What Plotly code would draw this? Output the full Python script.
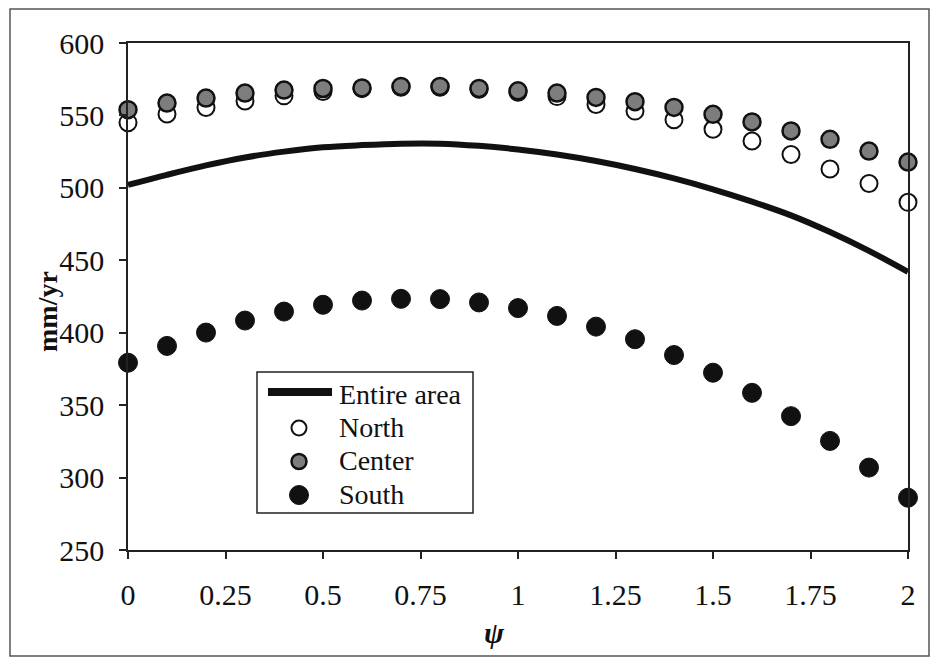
import plotly.graph_objects as go

# shape parameter
psi = [0.0, 0.1, 0.2, 0.3, 0.4, 0.5, 0.6, 0.7, 0.8, 0.9, 1.0,
       1.1, 1.2, 1.3, 1.4, 1.5, 1.6, 1.7, 1.8, 1.9, 2.0]

# mean annual values (mm/yr)
entire_area = [502, 509, 515.5, 521, 525, 528, 529.5, 530.5, 530.5, 529, 526.5,
               523, 518.5, 513, 506.5, 499, 490.5, 481, 469.5, 456.5, 442]
north = [545, 551, 555.5, 560, 563.5, 566.5, 568.5, 569.5, 569.5, 568, 566,
         563, 557.5, 553, 547, 540.5, 532.3, 523, 513, 503, 490]
center = [554, 558.5, 562, 565.4, 567.5, 568.6, 569, 570, 570, 568.6, 567,
          565.4, 562.4, 559.5, 555.5, 550.8, 545.5, 539.3, 533.5, 525.4, 517.8]
south = [379.3, 390.9, 400.1, 408.4, 414.6, 419.3, 422.2, 423.4, 423.2, 420.9, 417,
         411.6, 404.2, 395.5, 384.6, 372.4, 358.5, 342.4, 325.3, 306.9, 286.1]

x_tickvals = [0, 0.25, 0.5, 0.75, 1, 1.25, 1.5, 1.75, 2]
x_ticktext = ["0", "0.25", "0.5", "0.75", "1", "1.25", "1.5", "1.75", "2"]

series_names = ["Entire area", "North", "Center", "South"]

SERIF = "Liberation Serif, Times New Roman, serif"
INK = "#111111"

W, H = 930, 659
M_L, M_R, M_T, M_B = 128, 22, 43, 109
PLOT_W = W - M_L - M_R
PLOT_H = H - M_T - M_B


def px(x):
    """Horizontal pixel position -> paper fraction."""
    return (x - M_L) / PLOT_W


def py(y):
    """Vertical pixel position (from top) -> paper fraction."""
    return (H - M_B - y) / PLOT_H


marker_styles = {
    "North": dict(size=17, color="white", line=dict(color=INK, width=2)),
    "Center": dict(size=17, color="#7d7d7d", line=dict(color=INK, width=2.5)),
    "South": dict(size=19, color=INK, line=dict(color=INK, width=1)),
}

fig = go.Figure()

fig.add_trace(go.Scatter(
    x=psi, y=entire_area, mode="lines", name=series_names[0],
    line=dict(color=INK, width=6, shape="spline"),
    cliponaxis=False, showlegend=False,
))
for name, vals in zip(series_names[1:], [north, center, south]):
    fig.add_trace(go.Scatter(
        x=psi, y=vals, mode="markers", name=name,
        marker=marker_styles[name], cliponaxis=False, showlegend=False,
    ))

axis_common = dict(
    showgrid=False, zeroline=False,
    showline=True, linecolor="#222222", linewidth=1.5, mirror=True,
    ticks="outside", ticklen=7, tickwidth=1.5, tickcolor="#222222",
    tickfont=dict(family=SERIF, size=30, color=INK),
)

fig.update_xaxes(range=[0, 2], tickvals=x_tickvals, ticktext=x_ticktext,
                 ticklabelstandoff=10, **axis_common)
fig.update_yaxes(range=[250, 600], dtick=50, ticklabelstandoff=9, **axis_common)

shapes = []
annotations = []

# thin frame around the whole figure
shapes.append(dict(
    type="rect", xref="paper", yref="paper",
    x0=px(10), x1=px(929), y0=py(656), y1=py(9),
    line=dict(color="#555555", width=1.5), fillcolor="rgba(0,0,0,0)", layer="above",
))

# axis titles
annotations.append(dict(
    text="<b>mm/yr</b>", xref="paper", yref="paper", x=px(47), y=py(312),
    textangle=-90, showarrow=False, xanchor="center", yanchor="middle",
    font=dict(family=SERIF, size=28, color=INK),
))
annotations.append(dict(
    text="<b><i>ψ</i></b>", xref="paper", yref="paper", x=px(494), y=py(632),
    showarrow=False, xanchor="center", yanchor="middle",
    font=dict(family=SERIF, size=30, color=INK),
))

# legend box
shapes.append(dict(
    type="rect", xref="paper", yref="paper",
    x0=px(257), x1=px(473), y0=py(513), y1=py(372),
    line=dict(color="#222222", width=1.5), fillcolor="white", layer="above",
))
row_y = [392, 428, 461.5, 495]
sym_x = 299
text_x = 337
# line symbol
shapes.append(dict(
    type="line", xref="paper", yref="paper",
    x0=px(268), x1=px(332), y0=py(row_y[0]), y1=py(row_y[0]),
    line=dict(color=INK, width=8), layer="above",
))
# marker symbols
legend_marker_d = {"North": 15, "Center": 15, "South": 19}
for name, yy in zip(series_names[1:], row_y[1:]):
    st = marker_styles[name]
    d = legend_marker_d[name]
    shapes.append(dict(
        type="circle", xref="paper", yref="paper",
        xsizemode="pixel", ysizemode="pixel",
        xanchor=px(sym_x), yanchor=py(yy),
        x0=-d / 2, x1=d / 2, y0=-d / 2, y1=d / 2,
        fillcolor=st["color"], line=dict(color=INK, width=st["line"]["width"]),
        layer="above",
    ))
for name, yy in zip(series_names, [394, 427.5, 460.5, 494]):
    annotations.append(dict(
        text=name, xref="paper", yref="paper", x=px(text_x), y=py(yy),
        showarrow=False, xanchor="left", yanchor="middle",
        font=dict(family=SERIF, size=28, color=INK),
    ))

fig.update_layout(
    width=W, height=H,
    margin=dict(l=M_L, r=M_R, t=M_T, b=M_B, autoexpand=False),
    paper_bgcolor="white", plot_bgcolor="white",
    font=dict(family=SERIF, color=INK),
    showlegend=False,
    shapes=shapes,
    annotations=annotations,
)

fig.write_html("out.html")
